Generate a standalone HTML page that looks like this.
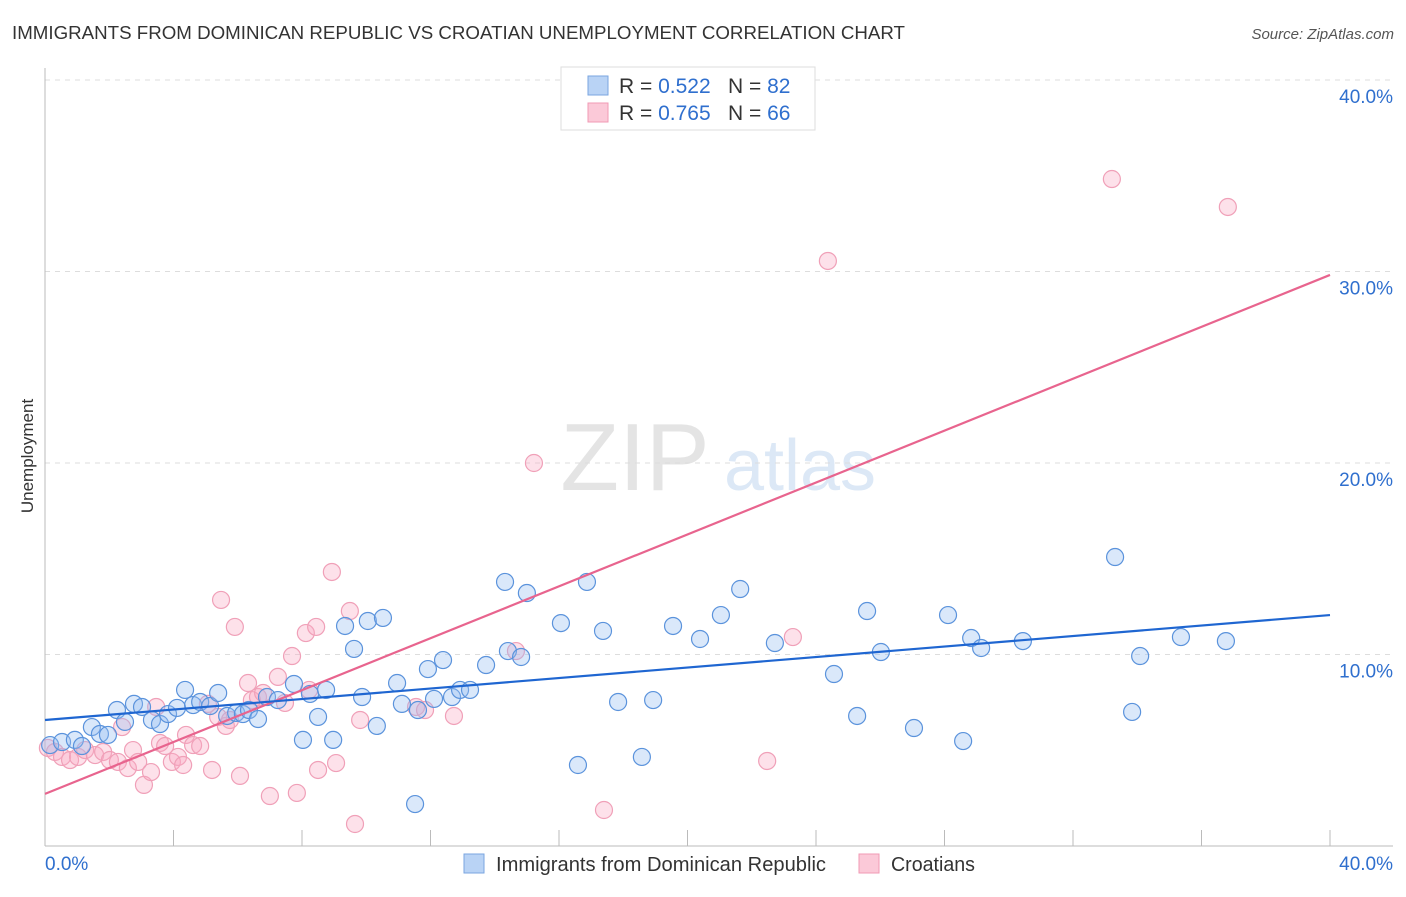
<!DOCTYPE html>
<html><head><meta charset="utf-8"><style>
body{margin:0;background:#fff;font-family:"Liberation Sans",sans-serif;}
svg text{font-family:"Liberation Sans",sans-serif;}
</style></head><body>
<svg width="1406" height="892" viewBox="0 0 1406 892" xmlns="http://www.w3.org/2000/svg">
<text x="12" y="39" font-size="18" fill="#333" textLength="893" lengthAdjust="spacingAndGlyphs">IMMIGRANTS FROM DOMINICAN REPUBLIC VS CROATIAN UNEMPLOYMENT CORRELATION CHART</text>
<text x="1394" y="39" font-size="15" fill="#555" text-anchor="end" font-style="italic">Source: ZipAtlas.com</text>
<text transform="translate(33,456) rotate(-90)" font-size="17" fill="#333" text-anchor="middle">Unemployment</text>
<g>
<text x="635" y="490" font-size="96" fill="#e4e4e4" text-anchor="middle" font-family="Liberation Serif, serif">ZIP</text>
<text x="800" y="490" font-size="72" fill="#dce8f6" text-anchor="middle">atlas</text>
</g>
<g id="grid"></g>
<g id="axes"></g>
<g id="pink"></g>
<g id="blue"></g>
<g id="lines"></g>
<g>
<rect x="561" y="67" width="254" height="63" fill="#fff" stroke="#ddd"/>
<rect x="588" y="76" width="20" height="19" fill="#b9d3f5" stroke="#7aa6e0"/>
<rect x="588" y="103" width="20" height="19" fill="#fbc9d8" stroke="#f09ab4"/>
<text x="619" y="93" font-size="21" fill="#333">R = <tspan fill="#2f6fce">0.522</tspan></text>
<text x="728" y="93" font-size="21" fill="#333">N = <tspan fill="#2f6fce">82</tspan></text>
<text x="619" y="120" font-size="21" fill="#333">R = <tspan fill="#2f6fce">0.765</tspan></text>
<text x="728" y="120" font-size="21" fill="#333">N = <tspan fill="#2f6fce">66</tspan></text>
</g>
<g>
<rect x="464" y="854" width="20" height="19" fill="#b9d3f5" stroke="#7aa6e0"/>
<text x="496" y="871" font-size="20" fill="#333" textLength="330" lengthAdjust="spacingAndGlyphs">Immigrants from Dominican Republic</text>
<rect x="859" y="854" width="20" height="19" fill="#fbc9d8" stroke="#f09ab4"/>
<text x="891" y="871" font-size="20" fill="#333" textLength="84" lengthAdjust="spacingAndGlyphs">Croatians</text>
</g>
</svg>
<script>
const blueX=[0.16,0.53,0.93,1.15,1.46,1.71,1.96,2.24,2.49,2.77,3.02,3.33,3.58,3.83,4.11,4.36,4.61,4.83,5.14,5.39,5.67,5.95,6.16,6.35,6.63,6.91,7.25,7.75,8.03,8.25,8.50,8.75,8.97,9.34,9.62,9.87,10.05,10.33,10.52,10.96,11.11,11.52,11.61,11.92,12.11,12.39,12.67,12.92,13.23,13.73,14.32,14.41,14.82,15.00,16.06,16.59,16.87,17.37,17.84,18.58,18.93,19.55,20.39,21.04,21.64,22.72,24.56,25.28,25.59,26.02,27.05,28.11,28.58,28.83,29.14,30.44,33.31,33.84,34.09,35.36,36.76];
const blueY=[5.27,5.43,5.54,5.22,6.21,5.85,5.80,7.10,6.48,7.42,7.26,6.58,6.37,6.89,7.21,8.15,7.36,7.52,7.31,7.99,6.79,6.95,6.89,7.10,6.63,7.78,7.62,8.46,5.54,7.94,6.74,8.15,5.54,11.49,10.29,7.78,11.75,6.27,11.91,8.51,7.42,2.19,7.10,9.24,7.68,9.71,7.78,8.15,8.15,9.45,13.79,10.18,9.87,13.21,11.64,4.23,13.79,11.23,7.52,4.65,7.62,11.49,10.81,12.06,13.42,10.60,8.98,6.79,12.27,10.13,6.16,12.06,5.48,10.86,10.34,10.70,15.09,7.00,9.92,10.91,10.70];
const pinkX=[0.09,0.31,0.53,0.78,1.03,1.25,1.56,1.81,2.02,2.27,2.40,2.58,2.74,2.90,3.08,3.30,3.46,3.58,3.74,3.95,4.14,4.30,4.39,4.61,4.83,5.07,5.20,5.39,5.48,5.63,5.76,5.91,6.07,6.32,6.44,6.63,6.79,7.00,7.25,7.47,7.69,7.84,8.12,8.22,8.44,8.50,8.93,9.06,9.49,9.81,9.65,11.55,11.83,12.73,14.66,15.22,17.40,22.48,23.28,24.37,33.21,36.82];
const pinkY=[5.12,4.91,4.65,4.49,4.65,5.01,4.75,4.91,4.49,4.39,6.21,4.07,5.01,4.39,3.19,3.86,7.26,5.38,5.22,4.39,4.65,4.23,5.80,5.27,5.22,7.42,3.97,6.74,12.85,6.27,6.58,11.44,3.66,8.51,7.62,7.78,7.99,2.61,8.83,7.47,9.92,2.77,11.12,8.15,11.44,3.97,14.31,4.33,12.27,6.58,1.15,7.26,7.10,6.79,10.18,20.00,1.88,4.44,10.91,30.55,34.83,33.37];
const blueLine=[6.58,12.06];
const pinkLine=[2.72,29.82];
const yTicks=[10,20,30,40];
const NS='http://www.w3.org/2000/svg';
const sx=v=>45+v/40*1285;
const sy=v=>846-v*19.15;
function mk(tag,attrs,parent){const e=document.createElementNS(NS,tag);for(const k in attrs)e.setAttribute(k,attrs[k]);document.getElementById(parent).appendChild(e);return e;}
yTicks.forEach(t=>{
 const g=mk('line',{x1:45,x2:1393,y1:sy(t),y2:sy(t),stroke:'#ddd','stroke-dasharray':'5,5'},'grid');
 
 
 const l=mk('text',{x:1393,y:sy(t)+23,'font-size':19,fill:'#2f6fce','text-anchor':'end'},'grid');
 l.textContent=t.toFixed(1)+'%';
 
 
});
const ax=mk('line',{x1:45,x2:45,y1:68,y2:846,stroke:'#bbb'},'axes');


const bx=mk('line',{x1:45,x2:1393,y1:846,y2:846,stroke:'#bbb'},'axes');


for(let i=1;i<=10;i++){const v=i*4;
 const t=mk('line',{x1:sx(v),x2:sx(v),y1:830,y2:846,stroke:'#bbb'},'axes');
 
 
}
const x0=mk('text',{x:45,y:870,'font-size':19,fill:'#2f6fce'},'axes');x0.textContent='0.0%';


const x1=mk('text',{x:1393,y:870,'font-size':19,fill:'#2f6fce','text-anchor':'end'},'axes');x1.textContent='40.0%';


pinkX.forEach((v,i)=>{const c=mk('circle',{cx:sx(v),cy:sy(pinkY[i]),r:8.5,fill:'rgba(248,170,195,0.35)',stroke:'#f0a0b8','stroke-width':1.2},'pink');
 
 });
blueX.forEach((v,i)=>{const c=mk('circle',{cx:sx(v),cy:sy(blueY[i]),r:8.5,fill:'rgba(150,190,240,0.35)',stroke:'#5b93dc','stroke-width':1.2},'blue');
 
 });
const pl=mk('line',{x1:sx(0),y1:sy(pinkLine[0]),x2:sx(40),y2:sy(pinkLine[1]),stroke:'#e8648e','stroke-width':2.2},'lines');


const bl=mk('line',{x1:sx(0),y1:sy(blueLine[0]),x2:sx(40),y2:sy(blueLine[1]),stroke:'#1f66d1','stroke-width':2.2},'lines');


</script>
</body></html>
